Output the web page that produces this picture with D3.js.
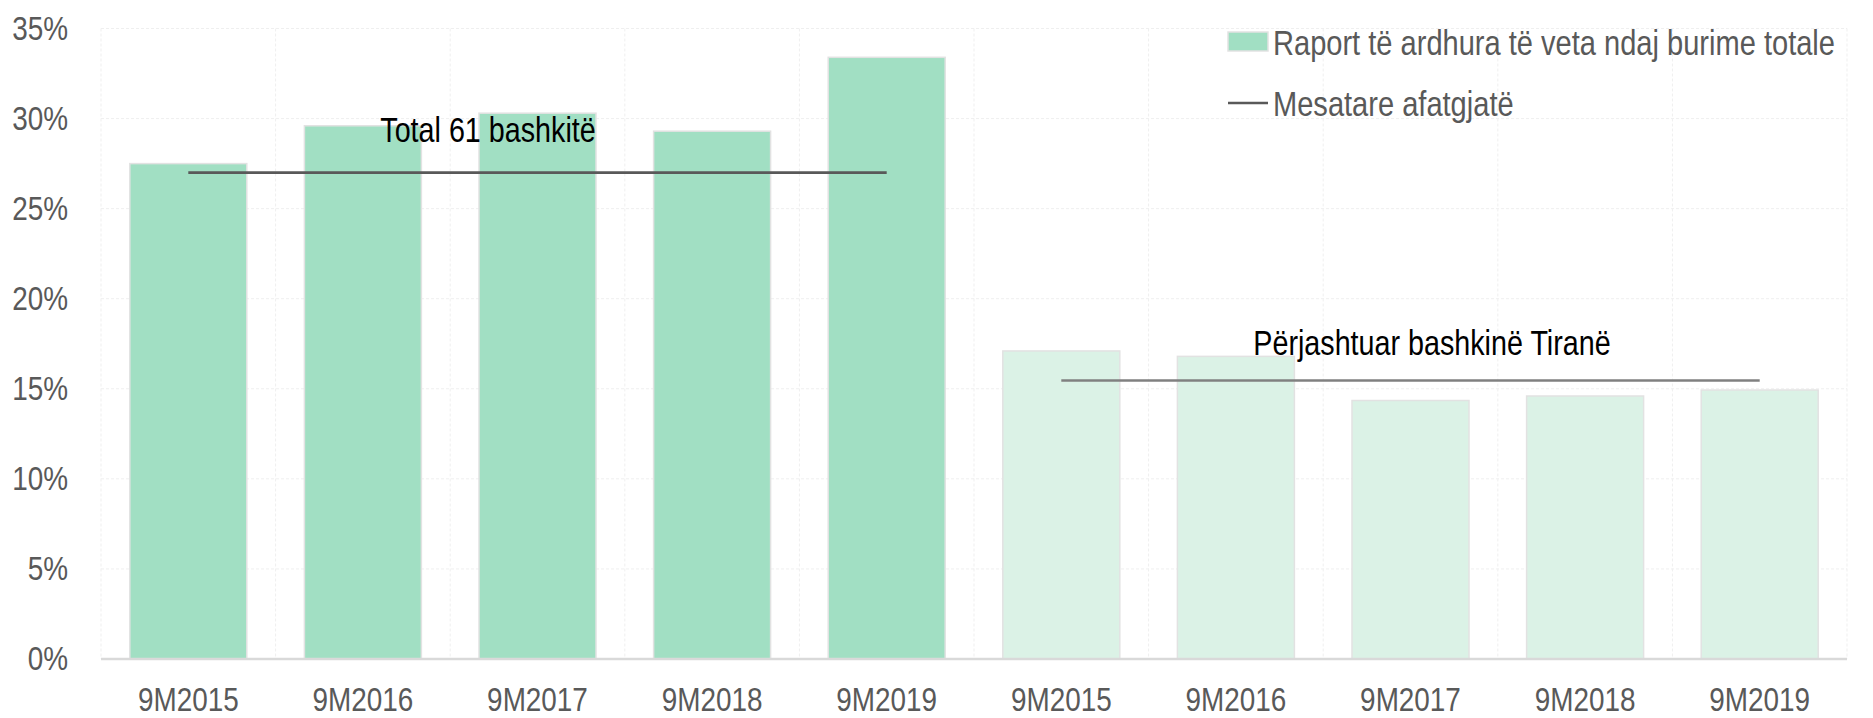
<!DOCTYPE html>
<html>
<head>
<script src="https://cdn.jsdelivr.net/npm/d3@7"></script>
  <style type="text/css">
    body {
      margin: 0;
      background: #fff;
      font-family: 'Liberation Sans', Arial, sans-serif;
    }
  </style>
</head>
<body>
  <script type="text/javascript">

  // chart values
  var categories = ["9M2015", "9M2016", "9M2017", "9M2018", "9M2019",
                    "9M2015 ", "9M2016 ", "9M2017 ", "9M2018 ", "9M2019 "];
  var totalValues = [27.5, 29.6, 30.3, 29.3, 33.4];
  var exTiranaValues = [17.1, 16.8, 14.35, 14.6, 14.93];
  var totalMean = 27.0;
  var exTiranaMean = 15.46;
  var yTicks = [0, 5, 10, 15, 20, 25, 30, 35];
  var groupLabels = ["Total 61 bashkitë", "Përjashtuar bashkinë Tiranë"];
  var legendLabels = ["Raport të ardhura të veta ndaj burime totale", "Mesatare afatgjatë"];

  var W = 1873, H = 718;
  var margin = {top: 28.5, bottom: 59, left: 101, right: 26};
  var width = W - margin.left - margin.right;
  var height = H - margin.top - margin.bottom;

  // the original uses a narrow face (Arial Narrow); squeeze the regular one
  function narrow(sel, k) {
    k = k || 0.82;
    sel.each(function() {
      var w = this.getComputedTextLength();
      d3.select(this)
        .attr("textLength", w * k)
        .attr("lengthAdjust", "spacingAndGlyphs");
    });
  }

  var svg = d3.select("body").append("svg")
      .attr("width", W)
      .attr("height", H);

  var g = svg.append("g")
      .attr("transform", "translate(" + margin.left + "," + margin.top + ")");

  var x = d3.scaleBand().domain(categories).range([0, width]).paddingInner(0.33).paddingOuter(0.165);
  var xb = d3.scaleBand().domain(categories).range([0, width]); // full bands for grid
  var y = d3.scaleLinear().domain([0, 35]).range([height, 0]);

  // gridlines
  g.selectAll(".hgrid")
      .data(yTicks.slice(1))
      .enter().append("line")
      .attr("x1", 0).attr("x2", width)
      .attr("y1", function(d) { return y(d); })
      .attr("y2", function(d) { return y(d); })
      .attr("stroke", "#efefef")
      .attr("stroke-dasharray", "3,2");

  g.selectAll(".vgrid")
      .data(d3.range(categories.length + 1))
      .enter().append("line")
      .attr("x1", function(d) { return d * xb.step(); })
      .attr("x2", function(d) { return d * xb.step(); })
      .attr("y1", 0).attr("y2", height)
      .attr("stroke", "#efefef")
      .attr("stroke-dasharray", "3,2");

  var bars = totalValues.map(function(v, i) { return {c: categories[i], v: v, s: 0}; })
      .concat(exTiranaValues.map(function(v, i) { return {c: categories[i + 5], v: v, s: 1}; }));

  g.selectAll(".bar")
      .data(bars)
      .enter().append("rect")
      .attr("x", function(d) { return x(d.c); })
      .attr("width", x.bandwidth())
      .attr("y", function(d) { return y(d.v); })
      .attr("height", function(d) { return height - y(d.v); })
      .attr("fill", function(d) { return d.s == 0 ? "#a1dfc3" : "#dbf2e6"; })
      .attr("stroke", "#e2e2e2")
      .attr("stroke-width", 1.5);

  // x axis line
  g.append("line")
      .attr("x1", 0).attr("x2", width)
      .attr("y1", height).attr("y2", height)
      .attr("stroke", "#d9d9d9")
      .attr("stroke-width", 2.5);

  // y axis labels
  var yAxis = d3.axisLeft(y).tickValues(yTicks).tickSize(0).tickPadding(33)
      .tickFormat(function(d) { return d + "%"; });
  var ya = g.append("g").call(yAxis);
  ya.select(".domain").remove();
  ya.selectAll("text")
      .attr("font-family", "'Liberation Sans', Arial, sans-serif")
      .attr("font-size", 34)
      .attr("fill", "#595959")
      .call(narrow);

  // x axis labels
  var xAxis = d3.axisBottom(x).tickSize(0).tickPadding(28)
      .tickFormat(function(d) { return d.trim(); });
  var xa = g.append("g").attr("transform", "translate(0," + height + ")").call(xAxis);
  xa.select(".domain").remove();
  xa.selectAll("text")
      .attr("font-family", "'Liberation Sans', Arial, sans-serif")
      .attr("font-size", 34)
      .attr("fill", "#595959")
      .call(narrow);

  // long term averages
  var means = [
    {a: categories[0], b: categories[4], v: totalMean, col: "#595959"},
    {a: categories[5], b: categories[9], v: exTiranaMean, col: "#808080"}
  ];
  g.selectAll(".mean")
      .data(means)
      .enter().append("line")
      .attr("x1", function(d) { return x(d.a) + x.bandwidth() / 2; })
      .attr("x2", function(d) { return x(d.b) + x.bandwidth() / 2; })
      .attr("y1", function(d) { return y(d.v); })
      .attr("y2", function(d) { return y(d.v); })
      .attr("stroke", function(d) { return d.col; })
      .attr("stroke-width", 2.6);

  // group labels
  g.append("text")
      .attr("x", x(categories[0]) + x.bandwidth() / 2 + 192)
      .attr("y", y(totalMean) - 31)
      .attr("font-size", 35)
      .attr("fill", "#000")
      .text(groupLabels[0])
      .call(narrow);

  g.append("text")
      .attr("x", x(categories[5]) + x.bandwidth() / 2 + 192)
      .attr("y", y(exTiranaMean) - 25)
      .attr("font-size", 35)
      .attr("fill", "#000")
      .text(groupLabels[1])
      .call(narrow);

  // legend
  var legend = svg.append("g").attr("transform", "translate(1228,0)");
  legend.append("rect")
      .attr("x", 0).attr("y", 32).attr("width", 40).attr("height", 19)
      .attr("fill", "#a1dfc3")
      .attr("stroke", "#e2e2e2").attr("stroke-width", 1.5);
  legend.append("text")
      .attr("x", 45).attr("y", 55)
      .attr("font-size", 35).attr("fill", "#595959")
      .text(legendLabels[0])
      .call(narrow, 0.83);
  legend.append("line")
      .attr("x1", 0).attr("x2", 40).attr("y1", 103).attr("y2", 103)
      .attr("stroke", "#595959").attr("stroke-width", 2.6);
  legend.append("text")
      .attr("x", 45).attr("y", 116)
      .attr("font-size", 35).attr("fill", "#595959")
      .text(legendLabels[1])
      .call(narrow, 0.83);

  </script>
</body>
</html>
